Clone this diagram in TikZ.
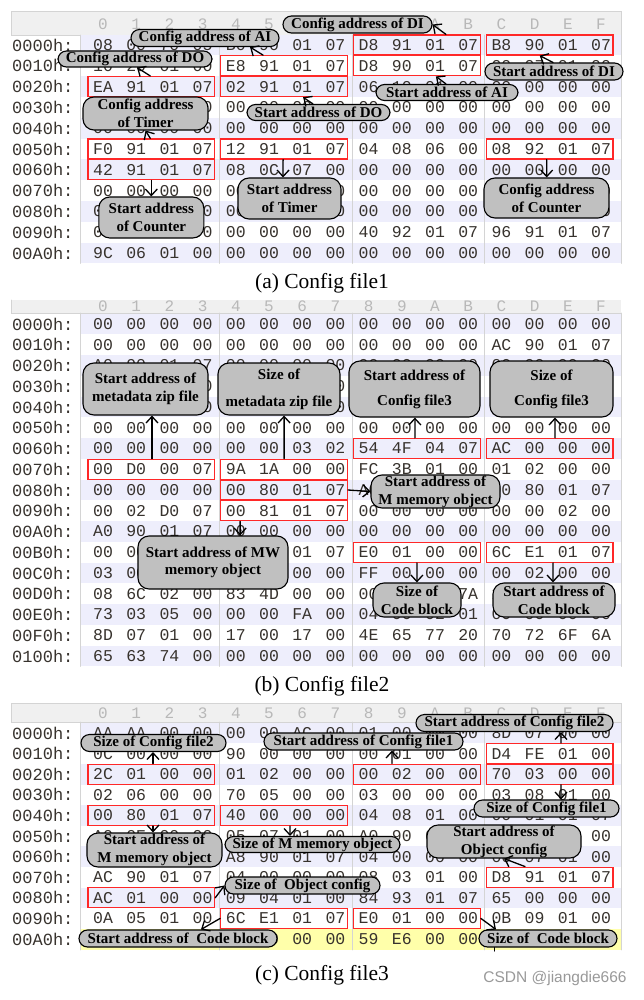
\documentclass[tikz,border=0pt]{standalone}
\usepackage{fontspec}
\setmainfont{Liberation Serif}
\setsansfont{Liberation Sans}
\setmonofont{Liberation Mono}
\usepackage{tikz}
\usetikzlibrary{arrows.meta}
\usepackage{xcolor}
\definecolor{hexink}{RGB}{55,50,45}
\definecolor{boxred}{RGB}{255,40,40}
\definecolor{tagfill}{RGB}{192,192,192}
\definecolor{rowbg}{RGB}{238,238,252}
\definecolor{hdrbg}{RGB}{240,240,240}
\definecolor{sepgray}{RGB}{212,212,212}
\definecolor{hilite}{RGB}{255,255,170}

\newcommand{\hexrow}[4]{%
  \node[addr] (#1#3) at (12,#2) {#3h:};
  \foreach \b [count=\i from 0] in {#4}
    \node[hexbyte] (#1#3-\i) at (103+33.2*\i,#2) {\b};
}
\newcommand{\redbox}[3]{\node[redbox] (#1) at (151.3+33.2*#3,#2) {};}

\begin{document}
\begin{tikzpicture}[x=1pt,y=-1pt,>={Straight Barb[length=6.5pt,width=12pt]},line cap=round,
  hexbyte/.style={font=\fontsize{16.5}{18}\ttfamily,text=hexink,inner sep=0pt},
  addr/.style={font=\fontsize{17}{18}\ttfamily,text=hexink,inner sep=0pt,anchor=west},
  hdrdigit/.style={font=\fontsize{16}{18}\ttfamily,text=black!28,inner sep=0pt},
  redbox/.style={draw=boxred,line width=1.3pt,minimum width=126.6pt,minimum height=20pt,inner sep=0pt},
  tagbox/.style={draw=black,fill=tagfill,line width=1.1pt,rounded corners=8.5pt,inner sep=0pt,
    align=center,font=\fontsize{15}{18}\bfseries},
  tagtall/.style={tagbox,rounded corners=11pt},
  sepline/.style={sepgray,line width=0.8pt},
  hdrband/.style={fill=hdrbg,draw=sepgray,line width=0.8pt},
  ptr/.style={->,line width=1.3pt},
  captext/.style={font=\fontsize{21.5}{24}\selectfont}]
\useasboundingbox (0,0) rectangle (643,1000);

% (a)
\filldraw[hdrband] (11,11) rectangle (621,35);
\foreach \h [count=\i from 0] in {0,1,2,3,4,5,6,7,8,9,A,B,C,D,E,F}
  \node[hdrdigit] (ah\i) at (103+33.2*\i,24) {\h};
\foreach \y in {45,86.6,128.2,169.8,211.4,253}
  \fill[rowbg] (80,\y-10.4) rectangle (621,\y+10.4);
\foreach \xx in {80,219.2,352,484.8,621}
  \draw[sepline] (\xx,35) -- (\xx,263.5);
\hexrow{a}{45}{0000}{08,00,70,05,B0,90,01,07,D8,91,01,07,B8,90,01,07}
\hexrow{a}{65.8}{0010}{10,20,01,00,E8,91,01,07,D8,90,01,07,00,07,01,00}
\hexrow{a}{86.6}{0020}{EA,91,01,07,02,91,01,07,06,10,01,00,00,00,00,00}
\hexrow{a}{107.4}{0030}{00,00,00,00,00,00,00,00,00,00,00,00,00,00,00,00}
\hexrow{a}{128.2}{0040}{00,00,00,00,00,00,00,00,00,00,00,00,00,00,00,00}
\hexrow{a}{149}{0050}{F0,91,01,07,12,91,01,07,04,08,06,00,08,92,01,07}
\hexrow{a}{169.8}{0060}{42,91,01,07,08,0C,07,00,00,00,00,00,00,00,00,00}
\hexrow{a}{190.6}{0070}{00,00,00,00,00,00,00,00,00,00,00,00,00,00,00,00}
\hexrow{a}{211.4}{0080}{00,00,00,00,00,00,00,00,00,00,00,00,00,00,00,00}
\hexrow{a}{232.2}{0090}{00,00,00,00,00,00,00,00,40,92,01,07,96,91,01,07}
\hexrow{a}{253}{00A0}{9C,06,01,00,00,00,00,00,00,00,00,00,00,00,00,00}
\redbox{raCfgDI}{45}{8}
\redbox{raStDI}{45}{12}
\redbox{raCfgAI}{65.8}{4}
\redbox{raStAI}{65.8}{8}
\redbox{raCfgDO}{86.6}{0}
\redbox{raStDO}{86.6}{4}
\redbox{raCfgTm}{149}{0}
\redbox{raStTm}{149}{4}
\redbox{raCfgCt}{149}{12}
\redbox{raStCt}{169.8}{0}
\node[tagbox,minimum width=149pt,minimum height=17pt] (naCfgDI) at (357.5,24.5) {Config address of DI};
\node[tagbox,minimum width=148pt,minimum height=17pt] (naCfgAI) at (205,38) {Config address of AI};
\node[tagbox,minimum width=154pt,minimum height=16pt] (naCfgDO) at (135,59) {Config address of DO};
\node[tagbox,minimum width=138pt,minimum height=17pt] (naStDI) at (554,71.5) {Start address of DI};
\node[tagbox,minimum width=142pt,minimum height=16pt] (naStAI) at (447,92.5) {Start address of AI};
\node[tagbox,minimum width=143pt,minimum height=16pt] (naStDO) at (318.5,112.5) {Start address of DO};
\node[tagtall,minimum width=125pt,minimum height=33pt] (naCfgTm) at (145.5,113.5) {Config address\\of Timer};
\node[tagtall,minimum width=103pt,minimum height=41pt] (naStTm) at (289.5,198.5) {Start address\\of Timer};
\node[tagtall,minimum width=105pt,minimum height=41pt] (naStCt) at (151.3,217.5) {Start address\\of Counter};
\node[tagtall,minimum width=125pt,minimum height=40pt] (naCfgCt) at (546.5,198) {Config address\\of Counter};
\draw[ptr] ([xshift=29pt]raCfgDI.north) -- (naCfgDI.east);
\draw[ptr] ([xshift=-21pt]raCfgAI.north) -- ([xshift=45pt]naCfgAI.south);
\draw[ptr] ([xshift=-1pt]raCfgDO.north) -- ([xshift=2pt]naCfgDO.south);
\draw[ptr] ([xshift=-1pt]naStDI.north) -- ([xshift=-10pt]raStDI.south);
\draw[ptr] ([xshift=-1pt]naStAI.north) -- ([xshift=19pt]raStAI.south);
\draw[ptr] ([xshift=-5.5pt]naStDO.north) -- ([xshift=19pt]raStDO.south);
\draw[ptr] ([xshift=-1pt]raCfgTm.north) -- (naCfgTm.south);
\draw[ptr] ([xshift=-1pt]raStTm.south) -- ([xshift=-6.5pt]naStTm.north);
\draw[ptr] (raStCt.south) -- (naStCt.north);
\draw[ptr] ([xshift=-3pt]raCfgCt.south) -- ([xshift=0.2pt]naCfgCt.north);
\node[captext] (capA) at (322,283) {(a) Config file1};

% (b)
\fill[hdrbg] (11,300) rectangle (621,313);
\draw[sepline] (11,300) -- (11,313) -- (621,313);
\foreach \h [count=\i from 0] in {0,1,2,3,4,5,6,7,8,9,A,B,C,D,E,F}
  \node[hdrdigit] (bh\i) at (103+33.2*\i,306) {\h};
\foreach \y in {324,365.5,407,448.5,490,531.5,573,614.5,656}
  \fill[rowbg] (80,\y-10.4) rectangle (621,\y+10.4);
\foreach \xx in {80,219.2,352,484.8,621}
  \draw[sepline] (\xx,313) -- (\xx,666.5);
\hexrow{b}{324}{0000}{00,00,00,00,00,00,00,00,00,00,00,00,00,00,00,00}
\hexrow{b}{344.75}{0010}{00,00,00,00,00,00,00,00,00,00,00,00,AC,90,01,07}
\hexrow{b}{365.5}{0020}{A0,90,01,07,00,00,00,00,00,00,00,00,00,00,00,00}
\hexrow{b}{386.25}{0030}{00,00,00,00,00,00,00,00,00,00,00,00,00,00,00,00}
\hexrow{b}{407}{0040}{00,00,00,00,00,00,00,00,00,00,00,00,00,00,00,00}
\hexrow{b}{427.75}{0050}{00,00,00,00,00,00,00,00,00,00,00,00,00,00,00,00}
\hexrow{b}{448.5}{0060}{00,00,00,00,00,00,03,02,54,4F,04,07,AC,00,00,00}
\hexrow{b}{469.25}{0070}{00,D0,00,07,9A,1A,00,00,FC,3B,01,00,01,02,00,00}
\hexrow{b}{490}{0080}{00,00,00,00,00,80,01,07,A0,90,01,07,00,80,01,07}
\hexrow{b}{510.75}{0090}{00,02,D0,07,00,81,01,07,00,00,00,00,00,00,02,00}
\hexrow{b}{531.5}{00A0}{A0,90,01,07,00,00,00,00,00,00,00,00,00,00,00,00}
\hexrow{b}{552.25}{00B0}{00,00,00,00,00,00,01,07,E0,01,00,00,6C,E1,01,07}
\hexrow{b}{573}{00C0}{03,00,00,00,00,00,00,00,FF,00,00,00,00,02,00,00}
\hexrow{b}{593.75}{00D0}{08,6C,02,00,83,4D,00,00,00,00,00,7A,10,00,00,00}
\hexrow{b}{614.5}{00E0}{73,03,05,00,00,00,FA,00,04,00,02,01,00,00,00,00}
\hexrow{b}{635.25}{00F0}{8D,07,01,00,17,00,17,00,4E,65,77,20,70,72,6F,6A}
\hexrow{b}{656}{0100}{65,63,74,00,00,00,00,00,00,00,00,00,00,00,00,00}
\redbox{rbCf3St}{448.5}{8}
\redbox{rbCf3Sz}{448.5}{12}
\redbox{rbMetaSt}{469.25}{0}
\redbox{rbMetaSz}{469.25}{4}
\redbox{rbMSt}{490}{4}
\redbox{rbMWSt}{510.75}{4}
\redbox{rbCodeSz}{552.25}{8}
\redbox{rbCodeSt}{552.25}{12}
\node[tagtall,minimum width=125pt,minimum height=52pt] (nbMetaSt) at (145.5,389) {Start address of\\metadata zip file};
\node[tagtall,minimum width=122pt,minimum height=52pt] (nbMetaSz) at (279,389) {Size of\\[9pt]metadata zip file};
\node[tagtall,minimum width=131pt,minimum height=56pt] (nbCf3St) at (414.5,389) {Start address of\\[7pt]Config file3};
\node[tagtall,minimum width=123pt,minimum height=56pt] (nbCf3Sz) at (551.5,389) {Size of\\[7pt]Config file3};
\node[tagtall,minimum width=129pt,minimum height=33pt] (nbMSt) at (435.5,491.5) {Start address of\\M memory object};
\node[tagtall,minimum width=150pt,minimum height=53pt] (nbMWSt) at (213,562.5) {Start address of MW\\[-1pt]memory object};
\node[tagtall,minimum width=88pt,minimum height=34pt] (nbCodeSz) at (417,600) {Size of\\Code block};
\node[tagtall,minimum width=122pt,minimum height=34pt] (nbCodeSt) at (554,600) {Start address of\\Code block};
\draw[ptr] ([xshift=0.7pt]rbMetaSt.north) -- ([xshift=6.5pt]nbMetaSt.south);
\draw[ptr] (rbMetaSz.north) -- ([xshift=5.1pt]nbMetaSz.south);
\draw[ptr] ([xshift=-2pt]rbCf3St.north) -- ([xshift=0.4pt]nbCf3St.south);
\draw[ptr] ([xshift=5.3pt]rbCf3Sz.north) -- ([xshift=3.5pt]nbCf3Sz.south);
\draw[ptr] (rbMSt.east) -- (nbMSt.west);
\draw[ptr] ([xshift=-44pt]rbMWSt.south) -- ([xshift=27.1pt]nbMWSt.north);
\draw[ptr] (rbCodeSz.south) -- ([xshift=-0.1pt]nbCodeSz.north);
\draw[ptr] ([xshift=3.3pt]rbCodeSt.south) -- ([xshift=-1pt]nbCodeSt.north);
\node[captext] (capB) at (322,686) {(b) Config file2};

% (c)
\filldraw[hdrband] (11,703) rectangle (621,722);
\foreach \h [count=\i from 0] in {0,1,2,3,4,5,6,7,8,9,A,B,C,D,E,F}
  \node[hdrdigit] (ch\i) at (103+33.2*\i,713) {\h};
\foreach \y in {733,774.2,815.4,856.6,897.8}
  \fill[rowbg] (80,\y-10.3) rectangle (621,\y+10.3);
\fill[hilite] (80,928.7) rectangle (621,950);
\foreach \xx in {80,219.2,352,484.8,621}
  \draw[sepline] (\xx,722) -- (\xx,950);
\hexrow{c}{733}{0000}{AA,AA,00,00,00,00,AC,00,01,00,00,00,8D,07,00,00}
\hexrow{c}{753.6}{0010}{0C,00,00,00,90,00,00,00,00,01,00,00,D4,FE,01,00}
\hexrow{c}{774.2}{0020}{2C,01,00,00,01,02,00,00,00,02,00,00,70,03,00,00}
\hexrow{c}{794.8}{0030}{02,06,00,00,70,05,00,00,03,00,00,00,03,08,01,00}
\hexrow{c}{815.4}{0040}{00,80,01,07,40,00,00,00,04,08,01,00,00,01,01,07}
\hexrow{c}{836}{0050}{A0,0E,00,00,05,07,01,00,A0,90,01,07,00,00,00,00}
\hexrow{c}{856.6}{0060}{00,00,00,00,A8,90,01,07,04,00,00,00,00,07,01,00}
\hexrow{c}{877.2}{0070}{AC,90,01,07,04,00,00,00,08,03,01,00,D8,91,01,07}
\hexrow{c}{897.8}{0080}{AC,01,00,00,09,04,01,00,84,93,01,07,65,00,00,00}
\hexrow{c}{918.4}{0090}{0A,05,01,00,6C,E1,01,07,E0,01,00,00,0B,09,01,00}
\hexrow{c}{939}{00A0}{00,00,00,00,00,00,00,00,59,E6,00,00,00,00,00,00}
\draw[line width=1pt] (494,942) -- (494,951);
\redbox{rcCf2St}{753.6}{12}
\redbox{rcCf2Sz}{774.2}{0}
\redbox{rcCf1St}{774.2}{8}
\redbox{rcCf1Sz}{774.2}{12}
\redbox{rcMSt}{815.4}{0}
\redbox{rcMSz}{815.4}{4}
\redbox{rcObjSt}{877.2}{12}
\redbox{rcObjSz}{897.8}{0}
\redbox{rcCodeSt}{918.4}{4}
\redbox{rcCodeSz}{918.4}{8}
\node[tagbox,minimum width=197pt,minimum height=17pt] (ncCf2St) at (514.5,723) {Start address of Config file2};
\node[tagbox,minimum width=145pt,minimum height=17pt] (ncCf2Sz) at (153.5,743) {Size of Config file2};
\node[tagbox,minimum width=199pt,minimum height=17pt] (ncCf1St) at (363.5,741.5) {Start address of Config file1};
\node[tagbox,minimum width=145pt,minimum height=17pt] (ncCf1Sz) at (546.5,808.5) {Size of Config file1};
\node[tagtall,minimum width=135pt,minimum height=34pt] (ncMSt) at (154.5,850) {Start address of\\M memory object};
\node[tagbox,minimum width=175pt,minimum height=16pt] (ncMSz) at (312.5,844.5) {Size of M memory object};
\node[tagtall,minimum width=154pt,minimum height=33pt] (ncObjSt) at (504,841.5) {Start address of\\Object config};
\node[tagbox,minimum width=155pt,minimum height=17pt] (ncObjSz) at (302.5,885.5) {Size of~ Object config};
\node[tagbox,minimum width=198pt,minimum height=17pt] (ncCodeSt) at (178,938.5) {Start address of~ Code block};
\node[tagbox,minimum width=138pt,minimum height=17pt] (ncCodeSz) at (548,938.5) {Size of~ Code block};
\draw[ptr] ([xshift=11.3pt]rcCf2St.north) -- ([xshift=46.5pt]ncCf2St.south);
\draw[ptr] ([xshift=1.7pt]rcCf2Sz.north) -- ([xshift=-0.5pt]ncCf2Sz.south);
\draw[ptr] ([xshift=-24.9pt]rcCf1St.north) -- ([xshift=28.5pt]ncCf1St.south);
\draw[ptr] ([xshift=11.3pt]rcCf1Sz.south) -- ([xshift=14.5pt]ncCf1Sz.north);
\draw[ptr] ([xshift=1.7pt]rcMSt.south) -- ([xshift=-1.5pt]ncMSt.north);
\draw[ptr] ([xshift=5.9pt]rcMSz.south) -- ([xshift=-22.5pt]ncMSz.north);
\draw[ptr] ([xshift=-24.7pt]rcObjSt.north) -- (ncObjSt.south);
\draw[ptr] (rcObjSz.east) -- (ncObjSz.west);
\draw[ptr] (rcCodeSt.west) -- ([xshift=23pt]ncCodeSt.north);
\draw[ptr] (rcCodeSz.east) -- ([xshift=-52pt]ncCodeSz.north);
\node[captext] (capC) at (322,975) {(c) Config file3};
\node[font=\fontsize{15.5}{18}\sffamily,text=black!40] (mark) at (555,978) {CSDN @jiangdie666};
\end{tikzpicture}
\end{document}
